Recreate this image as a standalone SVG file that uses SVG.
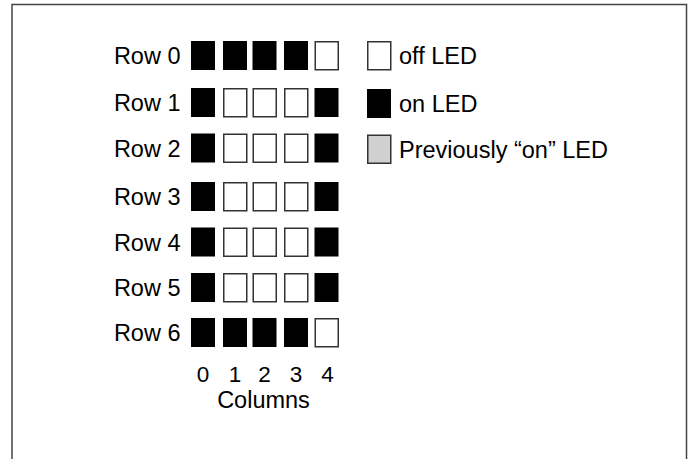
<svg xmlns="http://www.w3.org/2000/svg" width="693" height="459" viewBox="0 0 693 459">
<style>
text{font-family:"Liberation Sans",Arial,Helvetica,sans-serif;font-size:23.5px;fill:#000}
.lbl{text-anchor:end}
.num{text-anchor:middle;font-size:22.5px}
.on{fill:#000}
.off{fill:#fff;stroke:#333;stroke-width:1.5}
.prev{fill:#d0d0d0;stroke:#333;stroke-width:1.5}
.frame{fill:none;stroke:#444;stroke-width:1.5}
</style>
<defs>
<rect id="on" class="on" width="24" height="29"/>
<rect id="off" class="off" x="0.75" y="0.75" width="23" height="28"/>
</defs>
<rect width="693" height="459" fill="#fff"/>
<path class="frame" d="M12,470 V4.5 H686.5 V470"/>
<g id="row0">
<text class="lbl" x="180.5" y="64">Row 0</text>
<use href="#on" x="191" y="41"/><use href="#on" x="223" y="41"/><use href="#on" x="252.5" y="41"/><use href="#on" x="284" y="41"/><use href="#off" x="314.5" y="41"/>
</g>
<g id="row1">
<text class="lbl" x="180.5" y="111">Row 1</text>
<use href="#on" x="191" y="88"/><use href="#off" x="223" y="88"/><use href="#off" x="252.5" y="88"/><use href="#off" x="284" y="88"/><use href="#on" x="314.5" y="88"/>
</g>
<g id="row2">
<text class="lbl" x="180.5" y="156.5">Row 2</text>
<use href="#on" x="191" y="133.5"/><use href="#off" x="223" y="133.5"/><use href="#off" x="252.5" y="133.5"/><use href="#off" x="284" y="133.5"/><use href="#on" x="314.5" y="133.5"/>
</g>
<g id="row3">
<text class="lbl" x="180.5" y="205">Row 3</text>
<use href="#on" x="191" y="182"/><use href="#off" x="223" y="182"/><use href="#off" x="252.5" y="182"/><use href="#off" x="284" y="182"/><use href="#on" x="314.5" y="182"/>
</g>
<g id="row4">
<text class="lbl" x="180.5" y="250.5">Row 4</text>
<use href="#on" x="191" y="227.5"/><use href="#off" x="223" y="227.5"/><use href="#off" x="252.5" y="227.5"/><use href="#off" x="284" y="227.5"/><use href="#on" x="314.5" y="227.5"/>
</g>
<g id="row5">
<text class="lbl" x="180.5" y="296">Row 5</text>
<use href="#on" x="191" y="273"/><use href="#off" x="223" y="273"/><use href="#off" x="252.5" y="273"/><use href="#off" x="284" y="273"/><use href="#on" x="314.5" y="273"/>
</g>
<g id="row6">
<text class="lbl" x="180.5" y="341">Row 6</text>
<use href="#on" x="191" y="318"/><use href="#on" x="223" y="318"/><use href="#on" x="252.5" y="318"/><use href="#on" x="284" y="318"/><use href="#off" x="314.5" y="318"/>
</g>
<g id="columns">
<text class="num" x="203" y="381.5">0</text>
<text class="num" x="235" y="381.5">1</text>
<text class="num" x="264.5" y="381.5">2</text>
<text class="num" x="296" y="381.5">3</text>
<text class="num" x="327.5" y="381.5">4</text>
<text x="263.5" y="407.5" text-anchor="middle">Columns</text>
</g>
<g id="legend">
<use href="#off" x="367" y="41"/>
<text x="399" y="64">off LED</text>
<use href="#on" x="367" y="89"/>
<text x="399" y="111.5">on LED</text>
<rect class="prev" x="367.75" y="135.25" width="23" height="28"/>
<text x="399" y="157.5">Previously “on” LED</text>
</g>
<g id="connectors"/>
</svg>
